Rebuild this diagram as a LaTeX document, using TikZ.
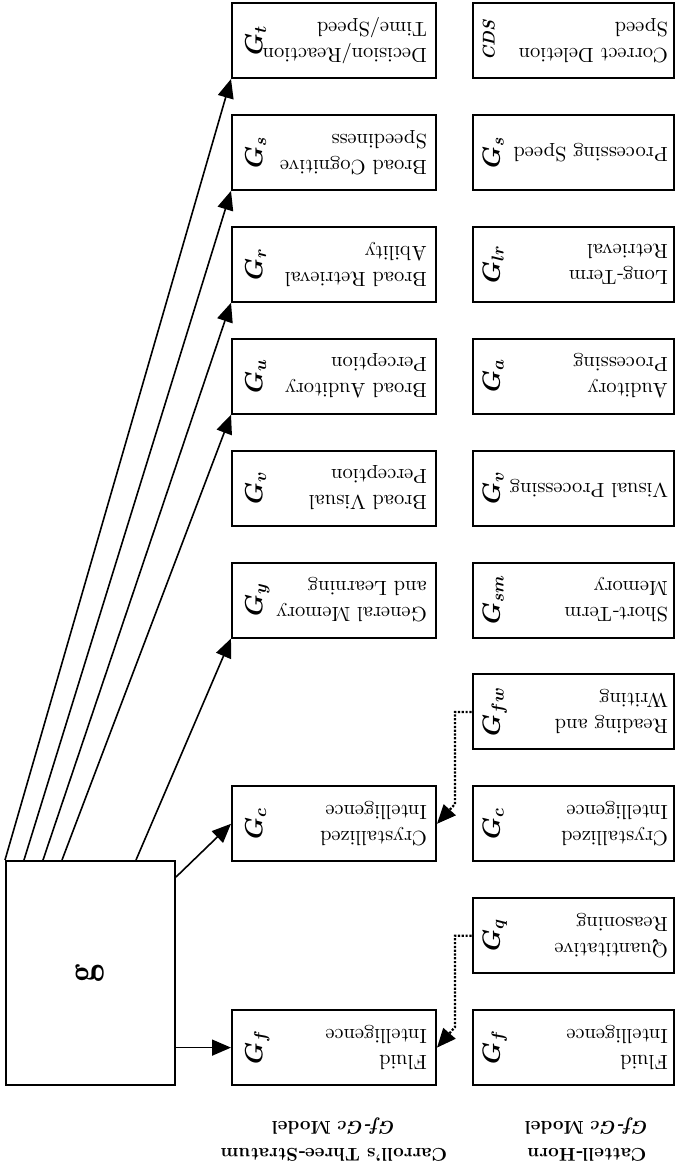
\documentclass[tikz,border=0pt]{standalone}
\usepackage{fontspec}
\setmainfont{lmroman10-regular.otf}[
  BoldFont=lmroman10-bold.otf,
  ItalicFont=lmroman10-italic.otf,
  BoldItalicFont=lmroman10-bolditalic.otf]
\usepackage{bm}
\usepackage{graphicx}
\usetikzlibrary{arrows.meta}

\begin{document}
\begin{tikzpicture}[x=1pt,y=-1pt,
  box/.style={draw, line width=2pt, minimum width=204pt, minimum height=75pt, inner sep=0pt},
  kbox/.style={box, minimum width=201.5pt},
  txt/.style={rotate=180, anchor=west, align=left, inner sep=0pt, font=\fontsize{20.5}{26}\selectfont},
  lbl/.style={rotate=90, anchor=north, inner sep=0pt, font=\fontsize{24}{24}\selectfont},
  arr/.style={line width=1.6pt, -{Triangle[length=19pt,width=16pt]}},
  dots/.style={line width=2.2pt, dash pattern=on 2.2pt off 1.6pt, -{Triangle[length=19pt,width=16pt]}},
  caption/.style={rotate=180, align=center, inner sep=0pt, font=\fontsize{18.5}{27}\selectfont\bfseries}]
\useasboundingbox (0,0) rectangle (675,1166);

% general factor
\node[draw, line width=2pt, minimum width=169pt, minimum height=224pt, inner sep=0pt] (g) at (90.5,973)
  {\rotatebox{90}{\scalebox{1}[1.35]{\fontsize{32}{32}\selectfont\bfseries g}}};

% Carroll's three-stratum column
\node[box] (cGt) at (334,40.5) {};
\node[box] (cGs) at (334,152.4) {};
\node[box] (cGr) at (334,264.3) {};
\node[box] (cGu) at (334,376.2) {};
\node[box] (cGv) at (334,488.1) {};
\node[box] (cGy) at (334,600) {};
\node[box] (cGc) at (334,823.8) {};
\node[box] (cGf) at (334,1047.6) {};

\node[txt] (cGt-t) at ([xshift=-10pt]cGt.east) {Decision/Reaction\\Time/Speed};
\node[txt] (cGs-t) at ([xshift=-10pt]cGs.east) {Broad Cognitive\\Speediness};
\node[txt] (cGr-t) at ([xshift=-10pt]cGr.east) {Broad Retrieval\\Ability};
\node[txt] (cGu-t) at ([xshift=-10pt]cGu.east) {Broad Auditory\\Perception};
\node[txt] (cGv-t) at ([xshift=-10pt]cGv.east) {Broad Visual\\Perception};
\node[txt] (cGy-t) at ([xshift=-10pt]cGy.east) {General Memory\\and Learning};
\node[txt] (cGc-t) at ([xshift=-10pt]cGc.east) {Crystallized\\Intelligence};
\node[txt] (cGf-t) at ([xshift=-10pt]cGf.east) {Fluid\\Intelligence};

\node[lbl] (cGt-l) at ([xshift=14pt]cGt.west) {$\bm{G_{t}}$};
\node[lbl] (cGs-l) at ([xshift=14pt]cGs.west) {$\bm{G_{s}}$};
\node[lbl] (cGr-l) at ([xshift=14pt]cGr.west) {$\bm{G_{r}}$};
\node[lbl] (cGu-l) at ([xshift=14pt]cGu.west) {$\bm{G_{u}}$};
\node[lbl] (cGv-l) at ([xshift=14pt]cGv.west) {$\bm{G_{v}}$};
\node[lbl] (cGy-l) at ([xshift=14pt]cGy.west) {$\bm{G_{y}}$};
\node[lbl] (cGc-l) at ([xshift=14pt]cGc.west) {$\bm{G_{c}}$};
\node[lbl] (cGf-l) at ([xshift=14pt]cGf.west) {$\bm{G_{f}}$};

% Cattell-Horn column
\node[kbox] (kCDS) at (573.25,40.5) {};
\node[kbox] (kGs) at (573.25,152.4) {};
\node[kbox] (kGlr) at (573.25,264.3) {};
\node[kbox] (kGa) at (573.25,376.2) {};
\node[kbox] (kGv) at (573.25,488.1) {};
\node[kbox] (kGsm) at (573.25,600) {};
\node[kbox] (kGfw) at (573.25,711.9) {};
\node[kbox] (kGc) at (573.25,823.8) {};
\node[kbox] (kGq) at (573.25,935.7) {};
\node[kbox] (kGf) at (573.25,1047.6) {};

\node[txt] (kCDS-t) at ([xshift=-7pt]kCDS.east) {Correct Deletion\\Speed};
\node[txt] (kGs-t) at ([xshift=-7pt]kGs.east) {Processing Speed};
\node[txt] (kGlr-t) at ([xshift=-7pt]kGlr.east) {Long-Term\\Retrieval};
\node[txt] (kGa-t) at ([xshift=-7pt]kGa.east) {Auditory\\Processing};
\node[txt] (kGv-t) at ([xshift=-7pt]kGv.east) {Visual Processing};
\node[txt] (kGsm-t) at ([xshift=-7pt]kGsm.east) {Short-Term\\Memory};
\node[txt] (kGfw-t) at ([xshift=-7pt]kGfw.east) {Reading and\\Writing};
\node[txt] (kGc-t) at ([xshift=-7pt]kGc.east) {Crystallized\\Intelligence};
\node[txt] (kGq-t) at ([xshift=-7pt]kGq.east) {Quantitative\\Reasoning};
\node[txt] (kGf-t) at ([xshift=-7pt]kGf.east) {Fluid\\Intelligence};

\node[lbl, font=\fontsize{17}{17}\selectfont] (kCDS-l) at ([xshift=11pt]kCDS.west) {\textbf{\textit{CDS}}};
\node[lbl] (kGs-l) at ([xshift=11pt]kGs.west) {$\bm{G_{s}}$};
\node[lbl] (kGlr-l) at ([xshift=11pt]kGlr.west) {$\bm{G_{lr}}$};
\node[lbl] (kGa-l) at ([xshift=11pt]kGa.west) {$\bm{G_{a}}$};
\node[lbl] (kGv-l) at ([xshift=11pt]kGv.west) {$\bm{G_{v}}$};
\node[lbl] (kGsm-l) at ([xshift=11pt]kGsm.west) {$\bm{G_{sm}}$};
\node[lbl] (kGfw-l) at ([xshift=11pt]kGfw.west) {$\bm{G_{fw}}$};
\node[lbl] (kGc-l) at ([xshift=11pt]kGc.west) {$\bm{G_{c}}$};
\node[lbl] (kGq-l) at ([xshift=11pt]kGq.west) {$\bm{G_{q}}$};
\node[lbl] (kGf-l) at ([xshift=11pt]kGf.west) {$\bm{G_{f}}$};

% column captions
\node[caption] (capC) at (334,1140) {Carroll’s Three-Stratum\\\textit{Gf-Gc} Model};
\node[caption] (capK) at (587,1140) {Cattell-Horn\\\textit{Gf-Gc} Model};

% loadings of g on the broad abilities
\draw[arr] (g.north west) -- (cGt.south west);
\draw[arr] ([xshift=19pt]g.north west) -- (cGs.south west);
\draw[arr] ([xshift=38pt]g.north west) -- (cGr.south west);
\draw[arr] ([xshift=57pt]g.north west) -- (cGu.south west);
\draw[arr] ([xshift=131pt]g.north west) -- (cGy.south west);
\draw[arr] ([yshift=-17pt]g.north east) -- (cGc.west);
\draw[arr] (g.east |- cGf.west) -- (cGf.west);

% Cattell-Horn factors folded into Carroll's
\coordinate (fwbend) at (455,804);
\coordinate (qbend) at (455,1027);
\draw[dots] (kGfw.west) -| (fwbend) -- (cGc.east);
\draw[dots] (kGq.west) -| (qbend) -- (cGf.east);
\end{tikzpicture}
\end{document}
